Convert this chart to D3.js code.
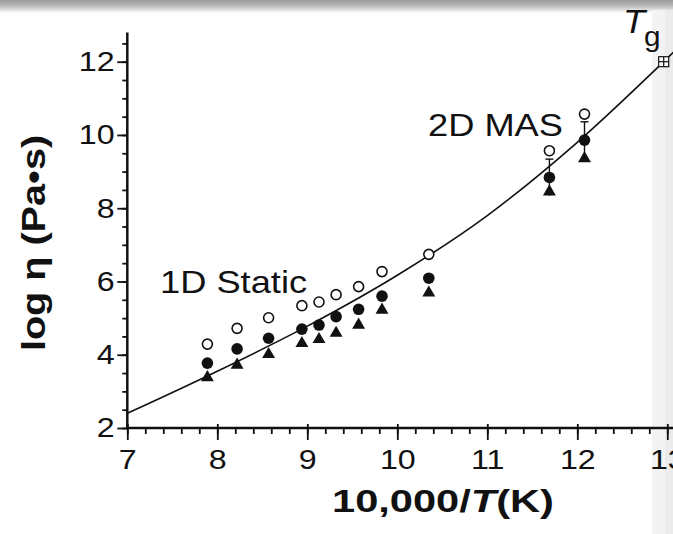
<!DOCTYPE html>
<html>
<head>
<meta charset="utf-8">
<script src="https://cdn.jsdelivr.net/npm/d3@7"></script>
<style>
  body { margin: 0; background: #fff; }
  svg { display: block; }
  text { font-family: "Liberation Sans", Arial, Helvetica, sans-serif; fill: #111; }
</style>
</head>
<body>
<div id="chart"></div>
<script>
// Data
const temps = [7.89, 8.22, 8.57, 8.94, 9.13, 9.32, 9.57, 9.83, 10.35, 11.69, 12.08]
const openVals = [4.29, 4.72, 5.01, 5.34, 5.44, 5.64, 5.86, 6.27, 6.74, 9.57, 10.57]
const filledVals = [3.77, 4.16, 4.45, 4.70, 4.81, 5.04, 5.24, 5.60, 6.09, 8.84, 9.86]
const triVals = [3.38, 3.72, 4.01, 4.31, 4.42, 4.59, 4.81, 5.22, 5.69, 8.45, 9.36]
const errIdx = [9, 10]      // 2D MAS points carry error bars
const errVal = [0.5, 0.5]

// fitted curve
const curveX = [7, 8, 9, 10, 11, 12, 12.96, 13.15]
const curveY = [2.40, 3.55, 4.78, 6.17, 7.80, 9.80, 12.0, 12.45]
const tg = [12.96, 12.0]

const xTicks = [7, 8, 9, 10, 11, 12, 13]
const yTicks = [2, 4, 6, 8, 10, 12]

// Environment
const width = 673, height = 534
const stretch = 1.15   // the scan is a bit wider than tall
const x = d3.scaleLinear().domain([7, 13]).range([127.3, 667.3])
const y = d3.scaleLinear().domain([2, 12]).range([428, 61.7])

let svg = d3.select("#chart").append("svg")
    .attr("width", width).attr("height", height)

// screenshot frame: grey bar on top, light strip on the right
let defs = svg.append("defs")
let gTop = defs.append("linearGradient").attr("id", "gTop").attr("x1", 0).attr("x2", 0).attr("y1", 0).attr("y2", 1)
gTop.append("stop").attr("offset", "0%").attr("stop-color", "#9a9a9a")
gTop.append("stop").attr("offset", "45%").attr("stop-color", "#b8b8b8")
gTop.append("stop").attr("offset", "100%").attr("stop-color", "#ffffff")
svg.append("rect").attr("x", 0).attr("y", 0).attr("width", width).attr("height", 13).attr("fill", "url(#gTop)")
svg.append("rect").attr("x", 652).attr("y", 10).attr("width", 21).attr("height", height).attr("fill", "#f3f3f3")
svg.append("rect").attr("x", 665).attr("y", 10).attr("width", 8).attr("height", height).attr("fill", "#ebebeb")

let plot = svg.append("g").attr("id", "plot")

// X axis
let xAxis = plot.append("g").attr("transform", `translate(0,${y(2)})`)
xAxis.call(d3.axisBottom(x).tickValues(xTicks).tickSize(12).tickPadding(9).tickFormat(d3.format("d")))
xAxis.select(".domain").remove()
plot.append("g").attr("transform", `translate(0,${y(2)})`)
    .call(d3.axisBottom(x).tickValues(d3.range(7, 13.01, 0.2)).tickSize(6).tickFormat(""))
    .select(".domain").remove()
plot.append("line")
    .attr("x1", x(7) - 1).attr("x2", width)
    .attr("y1", y(2)).attr("y2", y(2))
    .style("stroke", "#111").style("stroke-width", 2.5)

// Y axis
let yAxis = plot.append("g").attr("transform", `translate(${x(7)},0)`)
yAxis.call(d3.axisLeft(y).tickValues(yTicks).tickSize(10).tickPadding(1).tickFormat(d3.format("d")))
yAxis.select(".domain").remove()
plot.append("g").attr("transform", `translate(${x(7)},0)`)
    .call(d3.axisLeft(y).tickValues(d3.range(2, 12.81, 0.5)).tickSize(5).tickFormat(""))
    .select(".domain").remove()
plot.append("line")
    .attr("x1", x(7)).attr("x2", x(7))
    .attr("y1", y(12.8)).attr("y2", y(2) + 1)
    .style("stroke", "#111").style("stroke-width", 2.5)

plot.selectAll(".tick line").style("stroke", "#111").style("stroke-width", 1.8)
plot.selectAll(".tick text").style("font-size", "28px").style("fill", "#111")
    .attr("transform", `scale(${stretch},1)`)
xAxis.selectAll(".tick line").attr("y1", -4)

// Fitted curve
plot.append("path")
    .datum(curveX.map((d, i) => [d, curveY[i]]))
    .attr("d", d3.line().x(d => x(d[0])).y(d => y(d[1])).curve(d3.curveMonotoneX))
    .style("fill", "none").style("stroke", "#111").style("stroke-width", 1.6)

// Error bars on 2D MAS points
let errs = plot.append("g").style("stroke", "#111").style("stroke-width", 1.4)
errIdx.forEach((k, j) => {
    const cx = x(temps[k])
    errs.append("line").attr("x1", cx).attr("x2", cx)
        .attr("y1", y(filledVals[k] + errVal[j])).attr("y2", y(filledVals[k] - errVal[j]))
    errs.append("line").attr("x1", cx - 4).attr("x2", cx + 4)
        .attr("y1", y(filledVals[k] + errVal[j])).attr("y2", y(filledVals[k] + errVal[j]))
})

// Triangles
plot.append("g").selectAll("path")
    .data(temps)
    .enter().append("path")
    .attr("transform", (d, i) => `translate(${x(d)},${y(triVals[i])})`)
    .attr("d", d3.symbol().type(d3.symbolTriangle).size(72))
    .style("fill", "#111")

// Filled circles
plot.append("g").selectAll("circle")
    .data(temps)
    .enter().append("circle")
    .attr("cx", d => x(d)).attr("cy", (d, i) => y(filledVals[i]))
    .attr("r", 5.8)
    .style("fill", "#111")

// Open circles
plot.append("g").selectAll("circle")
    .data(temps)
    .enter().append("circle")
    .attr("cx", d => x(d)).attr("cy", (d, i) => y(openVals[i]))
    .attr("r", 5)
    .style("fill", "#fff").style("stroke", "#111").style("stroke-width", 1.6)

// Tg marker: boxed cross
let tgG = plot.append("g").attr("transform", `translate(${x(tg[0])},${y(tg[1])})`)
    .style("stroke", "#111").style("stroke-width", 1.2)
tgG.append("rect").attr("x", -5).attr("y", -5).attr("width", 10).attr("height", 10).style("fill", "#fff")
tgG.append("line").attr("x1", -5).attr("x2", 5).attr("y1", 0).attr("y2", 0)
tgG.append("line").attr("x1", 0).attr("x2", 0).attr("y1", -5).attr("y2", 5)

// Labels, stretched like the scan
function label(px, py, size, sx) {
    return plot.append("text")
        .attr("transform", `translate(${px},${py}) scale(${sx},1)`)
        .style("font-size", size + "px")
}
label(160, 293, 31, 1.17).text("1D Static")
label(428, 136, 31, 1.17).text("2D MAS")
let tgText = label(623, 33, 33, 1.1)
tgText.append("tspan").style("font-style", "italic").text("T")
tgText.append("tspan").attr("dx", -1).attr("dy", 13).style("font-size", "27px").text("g")

// Axis titles
let xt = label(443, 512, 32, 1.3)
    .attr("text-anchor", "middle").style("font-weight", "bold")
xt.append("tspan").text("10,000/")
xt.append("tspan").style("font-style", "italic").text("T")
xt.append("tspan").text("(K)")

plot.append("text")
    .attr("transform", "translate(45,243) rotate(-90) scale(1.2,1)")
    .attr("text-anchor", "middle").style("font-size", "33px").style("font-weight", "bold")
    .text("log η (Pa•s)")
</script>
</body>
</html>
